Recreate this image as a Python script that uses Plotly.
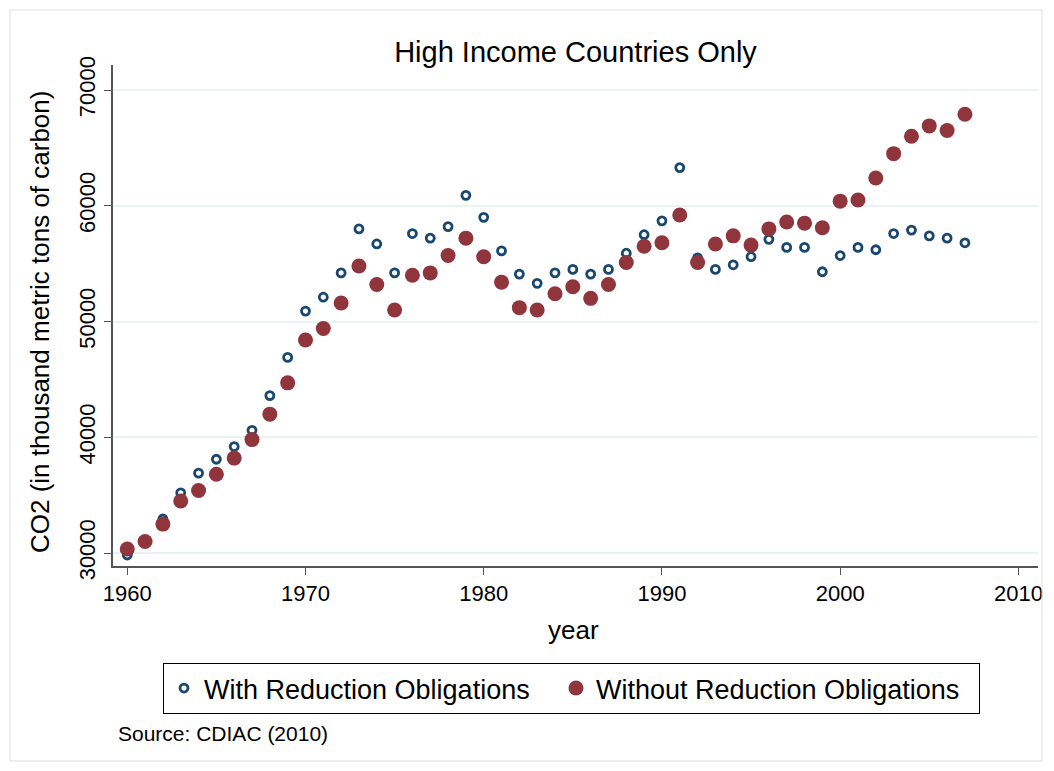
import plotly.graph_objects as go

years = list(range(1960, 2008))

with_obligations = [
    29830, 31100, 32940, 35200, 36900, 38100, 39200, 40600, 43600, 46900,
    50900, 52100, 54200, 58000, 56700, 54200, 57600, 57200, 58200, 60900,
    59000, 56100, 54100, 53300, 54200, 54500, 54100, 54500, 55900, 57500,
    58700, 63300, 55500, 54500, 54900, 55600, 57100, 56400, 56400, 54300,
    55700, 56400, 56200, 57600, 57900, 57400, 57200, 56800,
]

without_obligations = [
    30350, 31000, 32500, 34500, 35400, 36800, 38200, 39800, 42000, 44700,
    48400, 49400, 51600, 54800, 53200, 51000, 54000, 54200, 55700, 57200,
    55600, 53400, 51200, 51000, 52400, 53000, 52000, 53200, 55100, 56500,
    56800, 59200, 55100, 56700, 57400, 56600, 58000, 58600, 58500, 58100,
    60400, 60500, 62400, 64500, 66000, 66900, 66500, 67900,
]

x_ticks = [1960, 1970, 1980, 1990, 2000, 2010]
y_ticks = [30000, 40000, 50000, 60000, 70000]
y_labels = ["30000", "40000", "50000", "60000", "70000"]

# page body has an 8px margin, so work in page pixels minus 8
OFF = 8
W, H = 1054 - OFF, 771 - OFF
L, R, T, B = 113 - OFF, 1038 - OFF, 65 - OFF, 566 - OFF
PW, PH = R - L, B - T


def px(x):
    return (x - OFF - L) / PW


def py(y):
    return (B - (y - OFF)) / PH


fig = go.Figure()
fig.add_trace(go.Scatter(
    x=years, y=with_obligations, mode="markers",
    name="With Reduction Obligations", legendwidth=347,
    marker=dict(symbol="circle-open", size=8, color="#1a476f", line=dict(width=2.8)),
))
fig.add_trace(go.Scatter(
    x=years, y=without_obligations, mode="markers",
    name="Without Reduction Obligations", legendwidth=378,
    marker=dict(symbol="circle", size=15, color="#90353b"),
))

fig.update_layout(
    width=W, height=H,
    margin=dict(l=L, r=W - R, t=T, b=H - B, autoexpand=False),
    paper_bgcolor="white", plot_bgcolor="white",
    font=dict(family="Liberation Sans, Arial", size=21, color="black"),
    title=dict(text="High Income Countries Only", x=(L + R) / 2 / W, xanchor="center",
               y=1 - (52 - OFF) / H, yanchor="middle", font=dict(size=29)),
    legend=dict(orientation="h", x=px(163), xanchor="left",
                y=py(663), yanchor="top",
                bordercolor="black", borderwidth=1, font=dict(size=27),
                tracegroupgap=0),
    showlegend=True,
)
fig.update_xaxes(
    range=[1959.2, 2011.1], tickvals=x_ticks, ticks="outside", ticklen=7,
    showline=True, linecolor="#555", linewidth=1.5, tickcolor="#555",
    showgrid=False, zeroline=False, tickfont=dict(size=22), automargin=False,
)
fig.update_yaxes(
    range=[28880, 72160], tickvals=y_ticks, ticktext=y_labels, ticks="outside", ticklen=7,
    showline=True, linecolor="#555", linewidth=1.5, tickcolor="#555",
    showgrid=True, gridcolor="#eaf2f3", gridwidth=2, zeroline=False,
    tickangle=-90, tickfont=dict(size=22), automargin=False,
)
fig.add_annotation(text="year", xref="paper", yref="paper", x=px(573), y=py(630),
                   xanchor="center", yanchor="middle", showarrow=False, font=dict(size=26))
fig.add_annotation(text="CO2 (in thousand metric tons of carbon)", xref="paper", yref="paper",
                   x=px(40), y=py(322), textangle=-90, xanchor="center", yanchor="middle",
                   showarrow=False, font=dict(size=26))
fig.add_annotation(text="Source: CDIAC (2010)", xref="paper", yref="paper",
                   x=px(116), y=py(733), xanchor="left",
                   yanchor="middle", showarrow=False, font=dict(size=21))
fig.add_shape(type="rect", xref="paper", yref="paper",
              x0=-(L - 2) / PW, x1=(W - 12 - L) / PW,
              y0=-(H - 10 - B) / PH, y1=1 + (T - 2) / PH,
              line=dict(color="#dddddd", width=1))

fig.write_html("out.html")
